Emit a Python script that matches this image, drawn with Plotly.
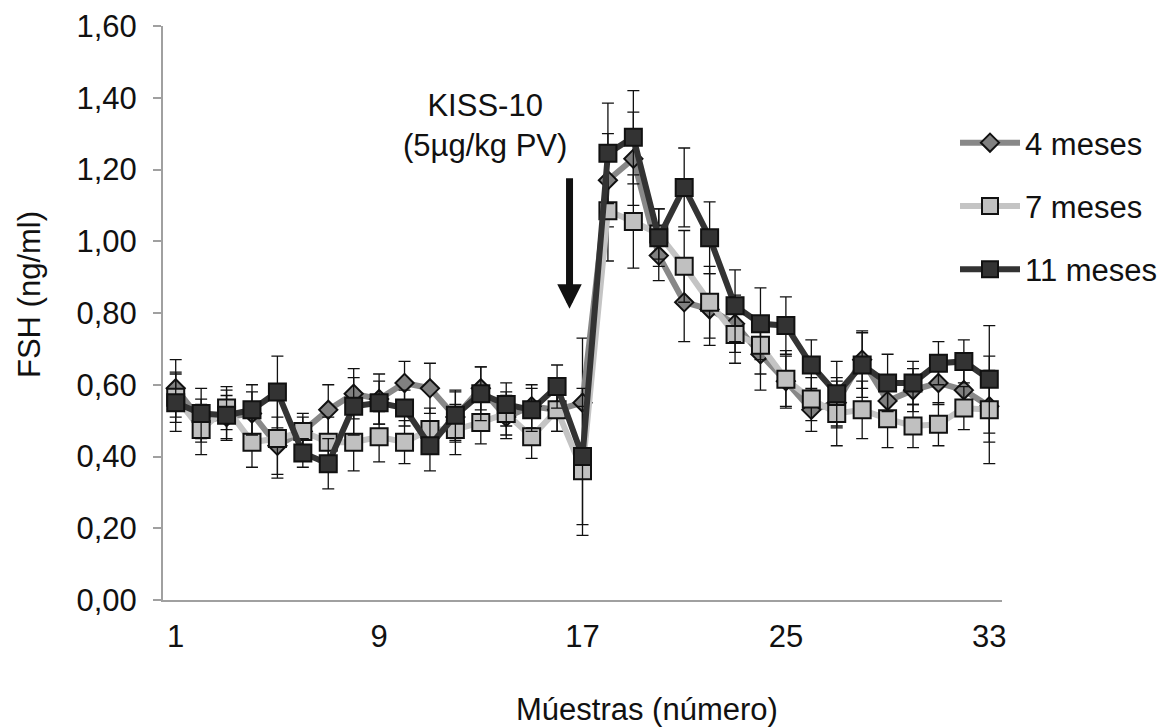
import plotly.graph_objects as go

# Sample number (1..33) and mean FSH (ng/ml) with error for each age group
samples = list(range(1, 34))

fsh_4m = [0.59, 0.50, 0.51, 0.52, 0.43, 0.47, 0.53, 0.575, 0.56, 0.605, 0.59,
          0.51, 0.59, 0.51, 0.54, 0.53, 0.55, 1.17, 1.23, 0.96, 0.83, 0.81,
          0.77, 0.685, 0.61, 0.53, 0.55, 0.67, 0.555, 0.585, 0.605, 0.585, 0.54]
err_4m = [0.08, 0.06, 0.06, 0.06, 0.08, 0.05, 0.07, 0.07, 0.07, 0.06, 0.07,
          0.07, 0.06, 0.06, 0.06, 0.06, 0.18, 0.13, 0.13, 0.07, 0.11, 0.10,
          0.08, 0.10, 0.07, 0.06, 0.07, 0.08, 0.07, 0.06, 0.06, 0.06, 0.10]

fsh_7m = [0.565, 0.475, 0.535, 0.44, 0.45, 0.47, 0.44, 0.44, 0.455, 0.44, 0.475,
          0.475, 0.495, 0.52, 0.455, 0.53, 0.36, 1.085, 1.055, 1.02, 0.93, 0.83,
          0.74, 0.71, 0.615, 0.56, 0.52, 0.53, 0.505, 0.485, 0.49, 0.535, 0.53]
err_7m = [0.07, 0.07, 0.06, 0.07, 0.11, 0.04, 0.07, 0.08, 0.07, 0.06, 0.06,
          0.07, 0.06, 0.06, 0.06, 0.06, 0.18, 0.14, 0.13, 0.07, 0.10, 0.10,
          0.08, 0.08, 0.08, 0.06, 0.09, 0.08, 0.08, 0.06, 0.06, 0.06, 0.15]

fsh_11m = [0.55, 0.52, 0.515, 0.53, 0.58, 0.41, 0.38, 0.54, 0.55, 0.535, 0.43,
           0.515, 0.575, 0.545, 0.53, 0.595, 0.40, 1.245, 1.29, 1.01, 1.15, 1.01,
           0.82, 0.77, 0.765, 0.655, 0.575, 0.655, 0.605, 0.605, 0.66, 0.665, 0.615]
err_11m = [0.08, 0.07, 0.07, 0.07, 0.10, 0.04, 0.07, 0.08, 0.06, 0.05, 0.07,
           0.07, 0.075, 0.06, 0.06, 0.06, 0.19, 0.14, 0.13, 0.08, 0.11, 0.10,
           0.10, 0.10, 0.08, 0.07, 0.09, 0.09, 0.08, 0.06, 0.06, 0.06, 0.15]

x_ticks = [1, 9, 17, 25, 33]
y_ticks = [0.0, 0.2, 0.4, 0.6, 0.8, 1.0, 1.2, 1.4, 1.6]

FONT = "Liberation Sans, Arial, sans-serif"
FS = 31

series = [
    ("4 meses", fsh_4m, err_4m, "#888888", "#808080", "diamond", 14),
    ("7 meses", fsh_7m, err_7m, "#c4c4c4", "#c0c0c0", "square", 17),
    ("11 meses", fsh_11m, err_11m, "#333333", "#333333", "square", 17),
]

W, H = 1167, 728
L, R, T, B = 163, 165, 26, 128


def px_to_paper(px, py):
    """Pixel position on the page -> paper coordinates."""
    return (px - L) / (W - L - R), (H - B - py) / (H - T - B)


fig = go.Figure()
for name, ys, errs, lcol, mcol, sym, size in series:
    fig.add_trace(go.Scatter(
        x=samples, y=ys, name=name, mode="lines+markers",
        legendgroup=name,
        line=dict(color=lcol, width=6),
        marker=dict(symbol=sym, size=size, color=mcol,
                    line=dict(color="#111111", width=2)),
        error_y=dict(type="data", array=errs, visible=True,
                     color="#111111", thickness=1.3, width=6),
    ))

# Injection label and arrow
fig.add_annotation(
    x=13.17, y=1.323, xref="x", yref="y",
    text="KISS-10<br>(5µg/kg PV)", showarrow=False,
    font=dict(family=FONT, size=FS, color="#111111"),
    xanchor="center", yanchor="middle",
)
fig.add_annotation(
    x=16.49, y=0.812, xref="x", yref="y",
    ax=16.49, ay=1.18, axref="x", ayref="y",
    text="", showarrow=True, arrowhead=2, arrowsize=0.7,
    arrowwidth=7, arrowcolor="#111111",
)

# Axis titles
tx, ty = px_to_paper(29, 295)
fig.add_annotation(
    x=tx, y=ty, xref="paper", yref="paper", text="FSH (ng/ml)",
    showarrow=False, textangle=-90, xanchor="center", yanchor="middle",
    font=dict(family=FONT, size=FS, color="#111111"),
)
tx, ty = px_to_paper(647, 709)
fig.add_annotation(
    x=tx, y=ty, xref="paper", yref="paper", text="Múestras (número)",
    showarrow=False, xanchor="center", yanchor="middle",
    font=dict(family=FONT, size=FS, color="#111111"),
)

lx, ly = px_to_paper(955, 116)
fig.update_layout(
    width=W, height=H,
    margin=dict(l=L, r=R, t=T, b=B, pad=0, autoexpand=False),
    paper_bgcolor="white", plot_bgcolor="white",
    separators=", ",
    font=dict(family=FONT, size=FS, color="#111111"),
    showlegend=True,
    legend=dict(
        x=lx, y=ly, xanchor="left", yanchor="top",
        bgcolor="rgba(0,0,0,0)", font=dict(family=FONT, size=FS),
        traceorder="grouped", tracegroupgap=20, itemwidth=60,
    ),
)
fig.update_xaxes(
    range=[0.5, 33.5], tickvals=x_ticks, ticks="", showgrid=False,
    zeroline=False, showline=True, linecolor="#a0a0a0", linewidth=2,
    ticklabelstandoff=8, tickfont=dict(family=FONT, size=FS),
)
fig.update_yaxes(
    range=[0, 1.6], tickvals=y_ticks, tickformat=".2f", showgrid=False,
    zeroline=False, showline=True, linecolor="#a0a0a0", linewidth=2,
    ticks="outside", ticklen=8, tickcolor="#a0a0a0", tickwidth=2,
    ticklabelstandoff=10, tickfont=dict(family=FONT, size=FS),
)

fig.write_html("out.html")
